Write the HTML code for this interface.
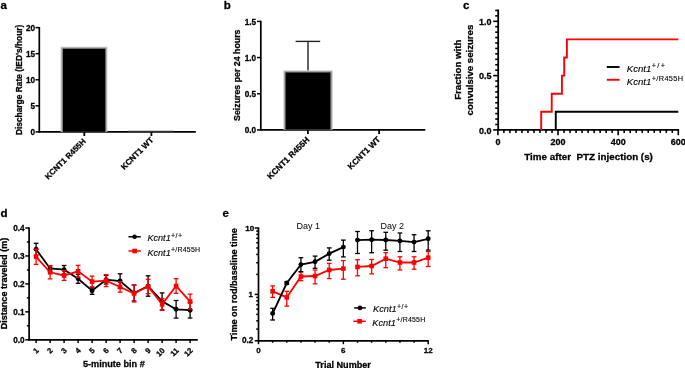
<!DOCTYPE html>
<html><head><meta charset="utf-8"><style>
html,body{margin:0;padding:0;background:#fff;}
svg{display:block;will-change:transform;}
svg text{font-family:"Liberation Sans",sans-serif;} text.b{stroke:#000;stroke-width:0.28px;paint-order:stroke;} text.l{stroke:#000;stroke-width:0.12px;paint-order:stroke;}
</style></head><body>
<svg width="685" height="368" viewBox="0 0 685 368">
<rect width="685" height="368" fill="#fff"/>
<text x="0.60" y="8.80" font-size="11.5" font-weight="bold" text-anchor="start" fill="#000" class="b">a</text>
<text x="223.80" y="8.80" font-size="11.5" font-weight="bold" text-anchor="start" fill="#000" class="b">b</text>
<text x="463.00" y="8.80" font-size="11.5" font-weight="bold" text-anchor="start" fill="#000" class="b">c</text>
<text x="0.40" y="217.40" font-size="11.5" font-weight="bold" text-anchor="start" fill="#000" class="b">d</text>
<text x="222.60" y="217.40" font-size="11.5" font-weight="bold" text-anchor="start" fill="#000" class="b">e</text>
<line x1="39.30" y1="27.00" x2="39.30" y2="132.60" stroke="#000" stroke-width="1.7"/>
<line x1="35.50" y1="131.90" x2="39.30" y2="131.90" stroke="#000" stroke-width="1.5"/>
<text x="35.00" y="135.11" font-size="8.2" font-weight="bold" text-anchor="end" fill="#000" class="b">0</text>
<line x1="35.50" y1="105.83" x2="39.30" y2="105.83" stroke="#000" stroke-width="1.5"/>
<text x="35.00" y="109.04" font-size="8.2" font-weight="bold" text-anchor="end" fill="#000" class="b">5</text>
<line x1="35.50" y1="79.75" x2="39.30" y2="79.75" stroke="#000" stroke-width="1.5"/>
<text x="35.00" y="82.96" font-size="8.2" font-weight="bold" text-anchor="end" fill="#000" class="b">10</text>
<line x1="35.50" y1="53.67" x2="39.30" y2="53.67" stroke="#000" stroke-width="1.5"/>
<text x="35.00" y="56.89" font-size="8.2" font-weight="bold" text-anchor="end" fill="#000" class="b">15</text>
<line x1="35.50" y1="27.60" x2="39.30" y2="27.60" stroke="#000" stroke-width="1.5"/>
<text x="35.00" y="30.81" font-size="8.2" font-weight="bold" text-anchor="end" fill="#000" class="b">20</text>
<line x1="38.60" y1="131.90" x2="195.80" y2="131.90" stroke="#000" stroke-width="1.9"/>
<line x1="84.30" y1="131.90" x2="84.30" y2="136.00" stroke="#000" stroke-width="1.8"/>
<line x1="151.40" y1="131.90" x2="151.40" y2="136.00" stroke="#000" stroke-width="1.8"/>
<rect x="60.5" y="46.7" width="47.0" height="85.1" fill="#d2d2d6"/><rect x="61.5" y="47.6" width="45.0" height="84.2" fill="#8e8e94"/><rect x="62.9" y="48.8" width="42.4" height="83" fill="#000"/>
<line x1="128.00" y1="131.10" x2="173.50" y2="131.10" stroke="#666" stroke-width="0.8"/>
<text x="86.30" y="141.90" font-size="8.0" font-weight="bold" text-anchor="end" transform="rotate(-45 86.30 141.90)" fill="#000" class="b">KCNT1 R455H</text>
<text x="153.90" y="140.60" font-size="8.1" font-weight="bold" text-anchor="end" transform="rotate(-45 153.90 140.60)" fill="#000" class="b">KCNT1 WT</text>
<text x="22.20" y="79.90" font-size="8.4" font-weight="bold" text-anchor="middle" transform="rotate(-90 22.20 79.90)" fill="#000" class="b">Discharge Rate (IED's/hour)</text>
<line x1="260.80" y1="20.80" x2="260.80" y2="130.60" stroke="#000" stroke-width="1.7"/>
<line x1="257.00" y1="129.90" x2="260.80" y2="129.90" stroke="#000" stroke-width="1.5"/>
<text x="256.10" y="133.41" font-size="8.2" font-weight="bold" text-anchor="end" fill="#000" class="b">0.0</text>
<line x1="257.00" y1="93.73" x2="260.80" y2="93.73" stroke="#000" stroke-width="1.5"/>
<text x="256.10" y="97.25" font-size="8.2" font-weight="bold" text-anchor="end" fill="#000" class="b">0.5</text>
<line x1="257.00" y1="57.57" x2="260.80" y2="57.57" stroke="#000" stroke-width="1.5"/>
<text x="256.10" y="61.08" font-size="8.2" font-weight="bold" text-anchor="end" fill="#000" class="b">1.0</text>
<line x1="257.00" y1="21.40" x2="260.80" y2="21.40" stroke="#000" stroke-width="1.5"/>
<text x="256.10" y="24.91" font-size="8.2" font-weight="bold" text-anchor="end" fill="#000" class="b">1.5</text>
<line x1="260.10" y1="129.90" x2="425.30" y2="129.90" stroke="#000" stroke-width="1.9"/>
<line x1="307.90" y1="129.90" x2="307.90" y2="133.90" stroke="#000" stroke-width="1.8"/>
<line x1="379.10" y1="129.90" x2="379.10" y2="133.90" stroke="#000" stroke-width="1.8"/>
<line x1="308.00" y1="71.60" x2="308.00" y2="41.40" stroke="#222" stroke-width="1.4"/>
<line x1="295.60" y1="41.40" x2="320.20" y2="41.40" stroke="#222" stroke-width="1.4"/>
<rect x="283.3" y="70.3" width="49.5" height="59.3" fill="#d2d2d6"/><rect x="284.3" y="71.3" width="47.5" height="58.3" fill="#8e8e94"/><rect x="285.6" y="72.5" width="44.8" height="57.1" fill="#000"/>
<text x="310.00" y="140.30" font-size="8.3" font-weight="bold" text-anchor="end" transform="rotate(-45 310.00 140.30)" fill="#000" class="b">KCNT1 R455H</text>
<text x="380.90" y="140.00" font-size="8.2" font-weight="bold" text-anchor="end" transform="rotate(-45 380.90 140.00)" fill="#000" class="b">KCNT1 WT</text>
<text x="240.00" y="75.25" font-size="8.8" font-weight="bold" text-anchor="middle" transform="rotate(-90 240.00 75.25)" fill="#000" class="b">Seizures per 24 hours</text>
<line x1="498.20" y1="9.60" x2="498.20" y2="130.70" stroke="#000" stroke-width="1.8"/>
<line x1="493.20" y1="129.90" x2="498.20" y2="129.90" stroke="#000" stroke-width="1.6"/>
<line x1="495.20" y1="124.47" x2="498.20" y2="124.47" stroke="#000" stroke-width="1.6"/>
<line x1="495.20" y1="119.04" x2="498.20" y2="119.04" stroke="#000" stroke-width="1.6"/>
<line x1="495.20" y1="113.61" x2="498.20" y2="113.61" stroke="#000" stroke-width="1.6"/>
<line x1="495.20" y1="108.18" x2="498.20" y2="108.18" stroke="#000" stroke-width="1.6"/>
<line x1="495.20" y1="102.75" x2="498.20" y2="102.75" stroke="#000" stroke-width="1.6"/>
<line x1="495.20" y1="97.32" x2="498.20" y2="97.32" stroke="#000" stroke-width="1.6"/>
<line x1="495.20" y1="91.89" x2="498.20" y2="91.89" stroke="#000" stroke-width="1.6"/>
<line x1="495.20" y1="86.46" x2="498.20" y2="86.46" stroke="#000" stroke-width="1.6"/>
<line x1="495.20" y1="81.03" x2="498.20" y2="81.03" stroke="#000" stroke-width="1.6"/>
<line x1="493.20" y1="75.60" x2="498.20" y2="75.60" stroke="#000" stroke-width="1.6"/>
<line x1="495.20" y1="70.17" x2="498.20" y2="70.17" stroke="#000" stroke-width="1.6"/>
<line x1="495.20" y1="64.74" x2="498.20" y2="64.74" stroke="#000" stroke-width="1.6"/>
<line x1="495.20" y1="59.31" x2="498.20" y2="59.31" stroke="#000" stroke-width="1.6"/>
<line x1="495.20" y1="53.88" x2="498.20" y2="53.88" stroke="#000" stroke-width="1.6"/>
<line x1="495.20" y1="48.45" x2="498.20" y2="48.45" stroke="#000" stroke-width="1.6"/>
<line x1="495.20" y1="43.02" x2="498.20" y2="43.02" stroke="#000" stroke-width="1.6"/>
<line x1="495.20" y1="37.59" x2="498.20" y2="37.59" stroke="#000" stroke-width="1.6"/>
<line x1="495.20" y1="32.16" x2="498.20" y2="32.16" stroke="#000" stroke-width="1.6"/>
<line x1="495.20" y1="26.73" x2="498.20" y2="26.73" stroke="#000" stroke-width="1.6"/>
<line x1="493.20" y1="21.30" x2="498.20" y2="21.30" stroke="#000" stroke-width="1.6"/>
<line x1="495.20" y1="15.87" x2="498.20" y2="15.87" stroke="#000" stroke-width="1.6"/>
<line x1="495.20" y1="10.44" x2="498.20" y2="10.44" stroke="#000" stroke-width="1.6"/>
<text x="491.50" y="133.59" font-size="9.0" font-weight="bold" text-anchor="end" fill="#000" class="b">0.0</text>
<text x="491.50" y="79.29" font-size="9.0" font-weight="bold" text-anchor="end" fill="#000" class="b">0.5</text>
<text x="491.50" y="24.99" font-size="9.0" font-weight="bold" text-anchor="end" fill="#000" class="b">1.0</text>
<line x1="497.40" y1="129.90" x2="679.10" y2="129.90" stroke="#000" stroke-width="1.8"/>
<line x1="497.90" y1="129.90" x2="497.90" y2="135.20" stroke="#000" stroke-width="1.6"/>
<line x1="503.91" y1="129.90" x2="503.91" y2="132.90" stroke="#000" stroke-width="1.6"/>
<line x1="509.93" y1="129.90" x2="509.93" y2="132.90" stroke="#000" stroke-width="1.6"/>
<line x1="515.94" y1="129.90" x2="515.94" y2="132.90" stroke="#000" stroke-width="1.6"/>
<line x1="521.95" y1="129.90" x2="521.95" y2="132.90" stroke="#000" stroke-width="1.6"/>
<line x1="527.97" y1="129.90" x2="527.97" y2="132.90" stroke="#000" stroke-width="1.6"/>
<line x1="533.98" y1="129.90" x2="533.98" y2="132.90" stroke="#000" stroke-width="1.6"/>
<line x1="539.99" y1="129.90" x2="539.99" y2="132.90" stroke="#000" stroke-width="1.6"/>
<line x1="546.01" y1="129.90" x2="546.01" y2="132.90" stroke="#000" stroke-width="1.6"/>
<line x1="552.02" y1="129.90" x2="552.02" y2="132.90" stroke="#000" stroke-width="1.6"/>
<line x1="558.03" y1="129.90" x2="558.03" y2="135.20" stroke="#000" stroke-width="1.6"/>
<line x1="564.05" y1="129.90" x2="564.05" y2="132.90" stroke="#000" stroke-width="1.6"/>
<line x1="570.06" y1="129.90" x2="570.06" y2="132.90" stroke="#000" stroke-width="1.6"/>
<line x1="576.07" y1="129.90" x2="576.07" y2="132.90" stroke="#000" stroke-width="1.6"/>
<line x1="582.09" y1="129.90" x2="582.09" y2="132.90" stroke="#000" stroke-width="1.6"/>
<line x1="588.10" y1="129.90" x2="588.10" y2="132.90" stroke="#000" stroke-width="1.6"/>
<line x1="594.11" y1="129.90" x2="594.11" y2="132.90" stroke="#000" stroke-width="1.6"/>
<line x1="600.13" y1="129.90" x2="600.13" y2="132.90" stroke="#000" stroke-width="1.6"/>
<line x1="606.14" y1="129.90" x2="606.14" y2="132.90" stroke="#000" stroke-width="1.6"/>
<line x1="612.15" y1="129.90" x2="612.15" y2="132.90" stroke="#000" stroke-width="1.6"/>
<line x1="618.17" y1="129.90" x2="618.17" y2="135.20" stroke="#000" stroke-width="1.6"/>
<line x1="624.18" y1="129.90" x2="624.18" y2="132.90" stroke="#000" stroke-width="1.6"/>
<line x1="630.19" y1="129.90" x2="630.19" y2="132.90" stroke="#000" stroke-width="1.6"/>
<line x1="636.21" y1="129.90" x2="636.21" y2="132.90" stroke="#000" stroke-width="1.6"/>
<line x1="642.22" y1="129.90" x2="642.22" y2="132.90" stroke="#000" stroke-width="1.6"/>
<line x1="648.23" y1="129.90" x2="648.23" y2="132.90" stroke="#000" stroke-width="1.6"/>
<line x1="654.25" y1="129.90" x2="654.25" y2="132.90" stroke="#000" stroke-width="1.6"/>
<line x1="660.26" y1="129.90" x2="660.26" y2="132.90" stroke="#000" stroke-width="1.6"/>
<line x1="666.27" y1="129.90" x2="666.27" y2="132.90" stroke="#000" stroke-width="1.6"/>
<line x1="672.29" y1="129.90" x2="672.29" y2="132.90" stroke="#000" stroke-width="1.6"/>
<line x1="678.30" y1="129.90" x2="678.30" y2="135.20" stroke="#000" stroke-width="1.6"/>
<text x="497.90" y="145.00" font-size="9.0" font-weight="bold" text-anchor="middle" fill="#000" class="b">0</text>
<text x="558.03" y="145.00" font-size="9.0" font-weight="bold" text-anchor="middle" fill="#000" class="b">200</text>
<text x="618.17" y="145.00" font-size="9.0" font-weight="bold" text-anchor="middle" fill="#000" class="b">400</text>
<text x="678.30" y="145.00" font-size="9.0" font-weight="bold" text-anchor="middle" fill="#000" class="b">600</text>
<polyline fill="none" stroke="#f00" stroke-width="1.9" points="541.20,129.90 541.20,129.90 541.20,111.80 551.72,111.80 551.72,93.70 561.94,93.70 561.94,75.60 564.20,75.60 564.20,57.50 566.90,57.50 566.90,39.40 678.30,39.40"/>
<polyline fill="none" stroke="#000" stroke-width="1.9" points="555.78,129.90 555.78,111.80 678.30,111.80"/>
<line x1="606.80" y1="67.00" x2="619.60" y2="67.00" stroke="#000" stroke-width="1.9"/>
<line x1="606.80" y1="79.80" x2="619.60" y2="79.80" stroke="#f00" stroke-width="1.9"/>
<text x="626.80" y="71.70" font-size="9.6" font-style="italic" fill="#000" class="l">Kcnt1<tspan font-size="7.4" font-style="normal" dx="0.3" dy="-4.0" letter-spacing="1.4">+/+</tspan></text>
<text x="626.80" y="84.80" font-size="9.6" font-style="italic" fill="#000" class="l">Kcnt1<tspan font-size="7.4" font-style="normal" dx="0.3" dy="-4.0" letter-spacing="0.35">+/R455H</tspan></text>
<text x="461.20" y="69.70" font-size="9.7" font-weight="bold" text-anchor="middle" transform="rotate(-90 461.20 69.70)" fill="#000" class="b">Fraction with</text>
<text x="472.80" y="70.05" font-size="9.6" font-weight="bold" text-anchor="middle" transform="rotate(-90 472.80 70.05)" fill="#000" class="b">convulsive seizures</text>
<text x="524.20" y="160.10" font-size="9.83" font-weight="bold" text-anchor="start" fill="#000" class="b">Time after&#160; PTZ injection (s)</text>
<line x1="29.10" y1="227.40" x2="29.10" y2="340.50" stroke="#000" stroke-width="1.7"/>
<line x1="25.30" y1="339.80" x2="29.10" y2="339.80" stroke="#000" stroke-width="1.5"/>
<text x="24.60" y="342.81" font-size="8.2" font-weight="bold" text-anchor="end" fill="#000" class="b">0.0</text>
<line x1="26.90" y1="325.82" x2="29.10" y2="325.82" stroke="#000" stroke-width="1.5"/>
<line x1="25.30" y1="311.85" x2="29.10" y2="311.85" stroke="#000" stroke-width="1.5"/>
<text x="24.60" y="314.86" font-size="8.2" font-weight="bold" text-anchor="end" fill="#000" class="b">0.1</text>
<line x1="26.90" y1="297.88" x2="29.10" y2="297.88" stroke="#000" stroke-width="1.5"/>
<line x1="25.30" y1="283.90" x2="29.10" y2="283.90" stroke="#000" stroke-width="1.5"/>
<text x="24.60" y="286.91" font-size="8.2" font-weight="bold" text-anchor="end" fill="#000" class="b">0.2</text>
<line x1="26.90" y1="269.93" x2="29.10" y2="269.93" stroke="#000" stroke-width="1.5"/>
<line x1="25.30" y1="255.95" x2="29.10" y2="255.95" stroke="#000" stroke-width="1.5"/>
<text x="24.60" y="258.96" font-size="8.2" font-weight="bold" text-anchor="end" fill="#000" class="b">0.3</text>
<line x1="26.90" y1="241.98" x2="29.10" y2="241.98" stroke="#000" stroke-width="1.5"/>
<line x1="25.30" y1="228.00" x2="29.10" y2="228.00" stroke="#000" stroke-width="1.5"/>
<text x="24.60" y="231.01" font-size="8.2" font-weight="bold" text-anchor="end" fill="#000" class="b">0.4</text>
<line x1="28.40" y1="339.80" x2="197.80" y2="339.80" stroke="#000" stroke-width="1.7"/>
<line x1="36.10" y1="339.80" x2="36.10" y2="342.90" stroke="#000" stroke-width="1.5"/>
<text x="39.30" y="351.00" font-size="7.7" font-weight="bold" text-anchor="end" transform="rotate(-45 39.30 351.00)" fill="#000" class="b">1</text>
<line x1="50.10" y1="339.80" x2="50.10" y2="342.90" stroke="#000" stroke-width="1.5"/>
<text x="53.30" y="351.00" font-size="7.7" font-weight="bold" text-anchor="end" transform="rotate(-45 53.30 351.00)" fill="#000" class="b">2</text>
<line x1="64.10" y1="339.80" x2="64.10" y2="342.90" stroke="#000" stroke-width="1.5"/>
<text x="67.30" y="351.00" font-size="7.7" font-weight="bold" text-anchor="end" transform="rotate(-45 67.30 351.00)" fill="#000" class="b">3</text>
<line x1="78.10" y1="339.80" x2="78.10" y2="342.90" stroke="#000" stroke-width="1.5"/>
<text x="81.30" y="351.00" font-size="7.7" font-weight="bold" text-anchor="end" transform="rotate(-45 81.30 351.00)" fill="#000" class="b">4</text>
<line x1="92.10" y1="339.80" x2="92.10" y2="342.90" stroke="#000" stroke-width="1.5"/>
<text x="95.30" y="351.00" font-size="7.7" font-weight="bold" text-anchor="end" transform="rotate(-45 95.30 351.00)" fill="#000" class="b">5</text>
<line x1="106.10" y1="339.80" x2="106.10" y2="342.90" stroke="#000" stroke-width="1.5"/>
<text x="109.30" y="351.00" font-size="7.7" font-weight="bold" text-anchor="end" transform="rotate(-45 109.30 351.00)" fill="#000" class="b">6</text>
<line x1="120.10" y1="339.80" x2="120.10" y2="342.90" stroke="#000" stroke-width="1.5"/>
<text x="123.30" y="351.00" font-size="7.7" font-weight="bold" text-anchor="end" transform="rotate(-45 123.30 351.00)" fill="#000" class="b">7</text>
<line x1="134.10" y1="339.80" x2="134.10" y2="342.90" stroke="#000" stroke-width="1.5"/>
<text x="137.30" y="351.00" font-size="7.7" font-weight="bold" text-anchor="end" transform="rotate(-45 137.30 351.00)" fill="#000" class="b">8</text>
<line x1="148.10" y1="339.80" x2="148.10" y2="342.90" stroke="#000" stroke-width="1.5"/>
<text x="151.30" y="351.00" font-size="7.7" font-weight="bold" text-anchor="end" transform="rotate(-45 151.30 351.00)" fill="#000" class="b">9</text>
<line x1="162.10" y1="339.80" x2="162.10" y2="342.90" stroke="#000" stroke-width="1.5"/>
<text x="165.30" y="351.00" font-size="7.7" font-weight="bold" text-anchor="end" transform="rotate(-45 165.30 351.00)" fill="#000" class="b">10</text>
<line x1="176.10" y1="339.80" x2="176.10" y2="342.90" stroke="#000" stroke-width="1.5"/>
<text x="179.30" y="351.00" font-size="7.7" font-weight="bold" text-anchor="end" transform="rotate(-45 179.30 351.00)" fill="#000" class="b">11</text>
<line x1="190.10" y1="339.80" x2="190.10" y2="342.90" stroke="#000" stroke-width="1.5"/>
<text x="193.30" y="351.00" font-size="7.7" font-weight="bold" text-anchor="end" transform="rotate(-45 193.30 351.00)" fill="#000" class="b">12</text>
<text x="113.85" y="367.00" font-size="9.15" font-weight="bold" text-anchor="middle" fill="#000" class="b">5-minute bin #</text>
<text x="7.00" y="283.55" font-size="9.05" font-weight="bold" text-anchor="middle" transform="rotate(-90 7.00 283.55)" fill="#000" class="b">Distance traveled (m)</text>
<line x1="36.10" y1="243.30" x2="36.10" y2="255.30" stroke="#000" stroke-width="1.3"/>
<line x1="33.75" y1="243.30" x2="38.45" y2="243.30" stroke="#000" stroke-width="1.3"/>
<line x1="33.75" y1="255.30" x2="38.45" y2="255.30" stroke="#000" stroke-width="1.3"/>
<line x1="50.10" y1="265.70" x2="50.10" y2="271.30" stroke="#000" stroke-width="1.3"/>
<line x1="47.75" y1="265.70" x2="52.45" y2="265.70" stroke="#000" stroke-width="1.3"/>
<line x1="47.75" y1="271.30" x2="52.45" y2="271.30" stroke="#000" stroke-width="1.3"/>
<line x1="64.10" y1="265.50" x2="64.10" y2="273.90" stroke="#000" stroke-width="1.3"/>
<line x1="61.75" y1="265.50" x2="66.45" y2="265.50" stroke="#000" stroke-width="1.3"/>
<line x1="61.75" y1="273.90" x2="66.45" y2="273.90" stroke="#000" stroke-width="1.3"/>
<line x1="78.10" y1="274.30" x2="78.10" y2="283.30" stroke="#000" stroke-width="1.3"/>
<line x1="75.75" y1="274.30" x2="80.45" y2="274.30" stroke="#000" stroke-width="1.3"/>
<line x1="75.75" y1="283.30" x2="80.45" y2="283.30" stroke="#000" stroke-width="1.3"/>
<line x1="92.10" y1="287.10" x2="92.10" y2="294.30" stroke="#000" stroke-width="1.3"/>
<line x1="89.75" y1="287.10" x2="94.45" y2="287.10" stroke="#000" stroke-width="1.3"/>
<line x1="89.75" y1="294.30" x2="94.45" y2="294.30" stroke="#000" stroke-width="1.3"/>
<line x1="106.10" y1="275.40" x2="106.10" y2="284.00" stroke="#000" stroke-width="1.3"/>
<line x1="103.75" y1="275.40" x2="108.45" y2="275.40" stroke="#000" stroke-width="1.3"/>
<line x1="103.75" y1="284.00" x2="108.45" y2="284.00" stroke="#000" stroke-width="1.3"/>
<line x1="120.10" y1="273.80" x2="120.10" y2="288.20" stroke="#000" stroke-width="1.3"/>
<line x1="117.75" y1="273.80" x2="122.45" y2="273.80" stroke="#000" stroke-width="1.3"/>
<line x1="117.75" y1="288.20" x2="122.45" y2="288.20" stroke="#000" stroke-width="1.3"/>
<line x1="134.10" y1="285.00" x2="134.10" y2="301.00" stroke="#000" stroke-width="1.3"/>
<line x1="131.75" y1="285.00" x2="136.45" y2="285.00" stroke="#000" stroke-width="1.3"/>
<line x1="131.75" y1="301.00" x2="136.45" y2="301.00" stroke="#000" stroke-width="1.3"/>
<line x1="148.10" y1="275.80" x2="148.10" y2="296.20" stroke="#000" stroke-width="1.3"/>
<line x1="145.75" y1="275.80" x2="150.45" y2="275.80" stroke="#000" stroke-width="1.3"/>
<line x1="145.75" y1="296.20" x2="150.45" y2="296.20" stroke="#000" stroke-width="1.3"/>
<line x1="162.10" y1="292.90" x2="162.10" y2="309.90" stroke="#000" stroke-width="1.3"/>
<line x1="159.75" y1="292.90" x2="164.45" y2="292.90" stroke="#000" stroke-width="1.3"/>
<line x1="159.75" y1="309.90" x2="164.45" y2="309.90" stroke="#000" stroke-width="1.3"/>
<line x1="176.10" y1="300.50" x2="176.10" y2="318.10" stroke="#000" stroke-width="1.3"/>
<line x1="173.75" y1="300.50" x2="178.45" y2="300.50" stroke="#000" stroke-width="1.3"/>
<line x1="173.75" y1="318.10" x2="178.45" y2="318.10" stroke="#000" stroke-width="1.3"/>
<line x1="190.10" y1="302.40" x2="190.10" y2="318.00" stroke="#000" stroke-width="1.3"/>
<line x1="187.75" y1="302.40" x2="192.45" y2="302.40" stroke="#000" stroke-width="1.3"/>
<line x1="187.75" y1="318.00" x2="192.45" y2="318.00" stroke="#000" stroke-width="1.3"/>
<polyline fill="none" stroke="#000" stroke-width="1.8" points="36.10,249.30 50.10,268.50 64.10,269.70 78.10,278.80 92.10,290.70 106.10,279.70 120.10,281.00 134.10,293.00 148.10,286.00 162.10,301.40 176.10,309.30 190.10,310.20"/>
<circle cx="36.10" cy="249.30" r="2.45" fill="#000"/>
<circle cx="50.10" cy="268.50" r="2.45" fill="#000"/>
<circle cx="64.10" cy="269.70" r="2.45" fill="#000"/>
<circle cx="78.10" cy="278.80" r="2.45" fill="#000"/>
<circle cx="92.10" cy="290.70" r="2.45" fill="#000"/>
<circle cx="106.10" cy="279.70" r="2.45" fill="#000"/>
<circle cx="120.10" cy="281.00" r="2.45" fill="#000"/>
<circle cx="134.10" cy="293.00" r="2.45" fill="#000"/>
<circle cx="148.10" cy="286.00" r="2.45" fill="#000"/>
<circle cx="162.10" cy="301.40" r="2.45" fill="#000"/>
<circle cx="176.10" cy="309.30" r="2.45" fill="#000"/>
<circle cx="190.10" cy="310.20" r="2.45" fill="#000"/>
<line x1="36.10" y1="249.20" x2="36.10" y2="264.40" stroke="#f00" stroke-width="1.3"/>
<line x1="33.75" y1="249.20" x2="38.45" y2="249.20" stroke="#f00" stroke-width="1.3"/>
<line x1="33.75" y1="264.40" x2="38.45" y2="264.40" stroke="#f00" stroke-width="1.3"/>
<line x1="50.10" y1="265.70" x2="50.10" y2="278.90" stroke="#f00" stroke-width="1.3"/>
<line x1="47.75" y1="265.70" x2="52.45" y2="265.70" stroke="#f00" stroke-width="1.3"/>
<line x1="47.75" y1="278.90" x2="52.45" y2="278.90" stroke="#f00" stroke-width="1.3"/>
<line x1="64.10" y1="270.60" x2="64.10" y2="280.40" stroke="#f00" stroke-width="1.3"/>
<line x1="61.75" y1="270.60" x2="66.45" y2="270.60" stroke="#f00" stroke-width="1.3"/>
<line x1="61.75" y1="280.40" x2="66.45" y2="280.40" stroke="#f00" stroke-width="1.3"/>
<line x1="78.10" y1="265.30" x2="78.10" y2="277.30" stroke="#f00" stroke-width="1.3"/>
<line x1="75.75" y1="265.30" x2="80.45" y2="265.30" stroke="#f00" stroke-width="1.3"/>
<line x1="75.75" y1="277.30" x2="80.45" y2="277.30" stroke="#f00" stroke-width="1.3"/>
<line x1="92.10" y1="276.10" x2="92.10" y2="287.10" stroke="#f00" stroke-width="1.3"/>
<line x1="89.75" y1="276.10" x2="94.45" y2="276.10" stroke="#f00" stroke-width="1.3"/>
<line x1="89.75" y1="287.10" x2="94.45" y2="287.10" stroke="#f00" stroke-width="1.3"/>
<line x1="106.10" y1="274.60" x2="106.10" y2="286.60" stroke="#f00" stroke-width="1.3"/>
<line x1="103.75" y1="274.60" x2="108.45" y2="274.60" stroke="#f00" stroke-width="1.3"/>
<line x1="103.75" y1="286.60" x2="108.45" y2="286.60" stroke="#f00" stroke-width="1.3"/>
<line x1="120.10" y1="281.80" x2="120.10" y2="292.20" stroke="#f00" stroke-width="1.3"/>
<line x1="117.75" y1="281.80" x2="122.45" y2="281.80" stroke="#f00" stroke-width="1.3"/>
<line x1="117.75" y1="292.20" x2="122.45" y2="292.20" stroke="#f00" stroke-width="1.3"/>
<line x1="134.10" y1="285.00" x2="134.10" y2="302.00" stroke="#f00" stroke-width="1.3"/>
<line x1="131.75" y1="285.00" x2="136.45" y2="285.00" stroke="#f00" stroke-width="1.3"/>
<line x1="131.75" y1="302.00" x2="136.45" y2="302.00" stroke="#f00" stroke-width="1.3"/>
<line x1="148.10" y1="279.30" x2="148.10" y2="293.70" stroke="#f00" stroke-width="1.3"/>
<line x1="145.75" y1="279.30" x2="150.45" y2="279.30" stroke="#f00" stroke-width="1.3"/>
<line x1="145.75" y1="293.70" x2="150.45" y2="293.70" stroke="#f00" stroke-width="1.3"/>
<line x1="162.10" y1="298.40" x2="162.10" y2="310.40" stroke="#f00" stroke-width="1.3"/>
<line x1="159.75" y1="298.40" x2="164.45" y2="298.40" stroke="#f00" stroke-width="1.3"/>
<line x1="159.75" y1="310.40" x2="164.45" y2="310.40" stroke="#f00" stroke-width="1.3"/>
<line x1="176.10" y1="278.70" x2="176.10" y2="293.30" stroke="#f00" stroke-width="1.3"/>
<line x1="173.75" y1="278.70" x2="178.45" y2="278.70" stroke="#f00" stroke-width="1.3"/>
<line x1="173.75" y1="293.30" x2="178.45" y2="293.30" stroke="#f00" stroke-width="1.3"/>
<line x1="190.10" y1="294.10" x2="190.10" y2="309.10" stroke="#f00" stroke-width="1.3"/>
<line x1="187.75" y1="294.10" x2="192.45" y2="294.10" stroke="#f00" stroke-width="1.3"/>
<line x1="187.75" y1="309.10" x2="192.45" y2="309.10" stroke="#f00" stroke-width="1.3"/>
<polyline fill="none" stroke="#f00" stroke-width="1.8" points="36.10,256.80 50.10,272.30 64.10,275.50 78.10,271.30 92.10,281.60 106.10,280.60 120.10,287.00 134.10,293.50 148.10,286.50 162.10,304.40 176.10,286.00 190.10,301.60"/>
<rect x="33.80" y="254.50" width="4.6" height="4.6" fill="#f00"/>
<rect x="47.80" y="270.00" width="4.6" height="4.6" fill="#f00"/>
<rect x="61.80" y="273.20" width="4.6" height="4.6" fill="#f00"/>
<rect x="75.80" y="269.00" width="4.6" height="4.6" fill="#f00"/>
<rect x="89.80" y="279.30" width="4.6" height="4.6" fill="#f00"/>
<rect x="103.80" y="278.30" width="4.6" height="4.6" fill="#f00"/>
<rect x="117.80" y="284.70" width="4.6" height="4.6" fill="#f00"/>
<rect x="131.80" y="291.20" width="4.6" height="4.6" fill="#f00"/>
<rect x="145.80" y="284.20" width="4.6" height="4.6" fill="#f00"/>
<rect x="159.80" y="302.10" width="4.6" height="4.6" fill="#f00"/>
<rect x="173.80" y="283.70" width="4.6" height="4.6" fill="#f00"/>
<rect x="187.80" y="299.30" width="4.6" height="4.6" fill="#f00"/>
<line x1="128.50" y1="236.80" x2="140.80" y2="236.80" stroke="#000" stroke-width="1.5"/>
<circle cx="134.6" cy="236.8" r="2.3" fill="#000"/>
<line x1="128.50" y1="251.00" x2="140.80" y2="251.00" stroke="#f00" stroke-width="1.5"/>
<rect x="132.29999999999998" y="248.7" width="4.6" height="4.6" fill="#f00"/>
<text x="147.40" y="241.40" font-size="9.15" font-style="italic" fill="#000" class="l">Kcnt1<tspan font-size="7.0" font-style="normal" dx="0.3" dy="-3.7" letter-spacing="0.5">+/+</tspan></text>
<text x="147.40" y="255.50" font-size="9.15" font-style="italic" fill="#000" class="l">Kcnt1<tspan font-size="7.0" font-style="normal" dx="0.3" dy="-3.7" letter-spacing="0.2">+/R455H</tspan></text>
<line x1="258.50" y1="227.40" x2="258.50" y2="341.50" stroke="#000" stroke-width="1.7"/>
<line x1="254.70" y1="340.81" x2="258.50" y2="340.81" stroke="#000" stroke-width="1.5"/>
<line x1="256.20" y1="329.12" x2="258.50" y2="329.12" stroke="#000" stroke-width="1.5"/>
<line x1="256.20" y1="320.82" x2="258.50" y2="320.82" stroke="#000" stroke-width="1.5"/>
<line x1="256.20" y1="314.39" x2="258.50" y2="314.39" stroke="#000" stroke-width="1.5"/>
<line x1="256.20" y1="309.13" x2="258.50" y2="309.13" stroke="#000" stroke-width="1.5"/>
<line x1="256.20" y1="304.69" x2="258.50" y2="304.69" stroke="#000" stroke-width="1.5"/>
<line x1="256.20" y1="300.83" x2="258.50" y2="300.83" stroke="#000" stroke-width="1.5"/>
<line x1="256.20" y1="297.44" x2="258.50" y2="297.44" stroke="#000" stroke-width="1.5"/>
<line x1="254.70" y1="294.40" x2="258.50" y2="294.40" stroke="#000" stroke-width="1.5"/>
<line x1="256.20" y1="274.41" x2="258.50" y2="274.41" stroke="#000" stroke-width="1.5"/>
<line x1="256.20" y1="262.72" x2="258.50" y2="262.72" stroke="#000" stroke-width="1.5"/>
<line x1="256.20" y1="254.42" x2="258.50" y2="254.42" stroke="#000" stroke-width="1.5"/>
<line x1="256.20" y1="247.99" x2="258.50" y2="247.99" stroke="#000" stroke-width="1.5"/>
<line x1="256.20" y1="242.73" x2="258.50" y2="242.73" stroke="#000" stroke-width="1.5"/>
<line x1="256.20" y1="238.29" x2="258.50" y2="238.29" stroke="#000" stroke-width="1.5"/>
<line x1="256.20" y1="234.43" x2="258.50" y2="234.43" stroke="#000" stroke-width="1.5"/>
<line x1="256.20" y1="231.04" x2="258.50" y2="231.04" stroke="#000" stroke-width="1.5"/>
<line x1="254.70" y1="228.00" x2="258.50" y2="228.00" stroke="#000" stroke-width="1.5"/>
<text x="254.20" y="231.24" font-size="8.0" font-weight="bold" text-anchor="end" fill="#000" class="b">10</text>
<text x="252.90" y="297.14" font-size="8.0" font-weight="bold" text-anchor="end" fill="#000" class="b">1</text>
<text x="253.40" y="343.12" font-size="8.2" font-weight="bold" text-anchor="end" fill="#000" class="b">0.2</text>
<line x1="257.80" y1="340.80" x2="428.80" y2="340.80" stroke="#000" stroke-width="1.7"/>
<line x1="258.50" y1="340.80" x2="258.50" y2="344.20" stroke="#000" stroke-width="1.5"/>
<text x="258.50" y="353.30" font-size="8.0" font-weight="bold" text-anchor="middle" fill="#000" class="b">0</text>
<line x1="272.64" y1="340.80" x2="272.64" y2="342.80" stroke="#000" stroke-width="1.5"/>
<line x1="286.78" y1="340.80" x2="286.78" y2="342.80" stroke="#000" stroke-width="1.5"/>
<line x1="300.93" y1="340.80" x2="300.93" y2="342.80" stroke="#000" stroke-width="1.5"/>
<line x1="315.07" y1="340.80" x2="315.07" y2="342.80" stroke="#000" stroke-width="1.5"/>
<line x1="329.21" y1="340.80" x2="329.21" y2="342.80" stroke="#000" stroke-width="1.5"/>
<line x1="343.35" y1="340.80" x2="343.35" y2="344.20" stroke="#000" stroke-width="1.5"/>
<text x="343.35" y="353.30" font-size="8.0" font-weight="bold" text-anchor="middle" fill="#000" class="b">6</text>
<line x1="357.49" y1="340.80" x2="357.49" y2="342.80" stroke="#000" stroke-width="1.5"/>
<line x1="371.63" y1="340.80" x2="371.63" y2="342.80" stroke="#000" stroke-width="1.5"/>
<line x1="385.77" y1="340.80" x2="385.77" y2="342.80" stroke="#000" stroke-width="1.5"/>
<line x1="399.92" y1="340.80" x2="399.92" y2="342.80" stroke="#000" stroke-width="1.5"/>
<line x1="414.06" y1="340.80" x2="414.06" y2="342.80" stroke="#000" stroke-width="1.5"/>
<line x1="428.20" y1="340.80" x2="428.20" y2="344.20" stroke="#000" stroke-width="1.5"/>
<text x="428.20" y="353.30" font-size="8.0" font-weight="bold" text-anchor="middle" fill="#000" class="b">12</text>
<text x="343.10" y="367.80" font-size="9.1" font-weight="bold" text-anchor="middle" fill="#000" class="b">Trial Number</text>
<text x="236.60" y="284.35" font-size="9.15" font-weight="bold" text-anchor="middle" transform="rotate(-90 236.60 284.35)" fill="#000" class="b">Time on rod/baseline time</text>
<text x="296.50" y="229.00" font-size="9.0" font-weight="normal" text-anchor="start" fill="#000">Day 1</text>
<text x="380.50" y="229.00" font-size="9.0" font-weight="normal" text-anchor="start" fill="#000">Day 2</text>
<line x1="272.64" y1="285.90" x2="272.64" y2="297.40" stroke="#f00" stroke-width="1.3"/>
<line x1="270.29" y1="285.90" x2="274.99" y2="285.90" stroke="#f00" stroke-width="1.3"/>
<line x1="270.29" y1="297.40" x2="274.99" y2="297.40" stroke="#f00" stroke-width="1.3"/>
<line x1="286.78" y1="291.30" x2="286.78" y2="306.10" stroke="#f00" stroke-width="1.3"/>
<line x1="284.43" y1="291.30" x2="289.13" y2="291.30" stroke="#f00" stroke-width="1.3"/>
<line x1="284.43" y1="306.10" x2="289.13" y2="306.10" stroke="#f00" stroke-width="1.3"/>
<line x1="300.93" y1="272.10" x2="300.93" y2="280.70" stroke="#f00" stroke-width="1.3"/>
<line x1="298.57" y1="272.10" x2="303.28" y2="272.10" stroke="#f00" stroke-width="1.3"/>
<line x1="298.57" y1="280.70" x2="303.28" y2="280.70" stroke="#f00" stroke-width="1.3"/>
<line x1="315.07" y1="270.00" x2="315.07" y2="283.80" stroke="#f00" stroke-width="1.3"/>
<line x1="312.72" y1="270.00" x2="317.42" y2="270.00" stroke="#f00" stroke-width="1.3"/>
<line x1="312.72" y1="283.80" x2="317.42" y2="283.80" stroke="#f00" stroke-width="1.3"/>
<line x1="329.21" y1="263.40" x2="329.21" y2="278.60" stroke="#f00" stroke-width="1.3"/>
<line x1="326.86" y1="263.40" x2="331.56" y2="263.40" stroke="#f00" stroke-width="1.3"/>
<line x1="326.86" y1="278.60" x2="331.56" y2="278.60" stroke="#f00" stroke-width="1.3"/>
<line x1="343.35" y1="260.50" x2="343.35" y2="279.20" stroke="#f00" stroke-width="1.3"/>
<line x1="341.00" y1="260.50" x2="345.70" y2="260.50" stroke="#f00" stroke-width="1.3"/>
<line x1="341.00" y1="279.20" x2="345.70" y2="279.20" stroke="#f00" stroke-width="1.3"/>
<polyline fill="none" stroke="#f00" stroke-width="1.8" points="272.64,291.30 286.78,297.40 300.93,276.50 315.07,276.00 329.21,270.00 343.35,268.60"/>
<rect x="270.34" y="289.00" width="4.6" height="4.6" fill="#f00"/>
<rect x="284.48" y="295.10" width="4.6" height="4.6" fill="#f00"/>
<rect x="298.62" y="274.20" width="4.6" height="4.6" fill="#f00"/>
<rect x="312.77" y="273.70" width="4.6" height="4.6" fill="#f00"/>
<rect x="326.91" y="267.70" width="4.6" height="4.6" fill="#f00"/>
<rect x="341.05" y="266.30" width="4.6" height="4.6" fill="#f00"/>
<line x1="357.49" y1="259.70" x2="357.49" y2="275.80" stroke="#f00" stroke-width="1.3"/>
<line x1="355.14" y1="259.70" x2="359.84" y2="259.70" stroke="#f00" stroke-width="1.3"/>
<line x1="355.14" y1="275.80" x2="359.84" y2="275.80" stroke="#f00" stroke-width="1.3"/>
<line x1="371.63" y1="259.50" x2="371.63" y2="273.90" stroke="#f00" stroke-width="1.3"/>
<line x1="369.28" y1="259.50" x2="373.98" y2="259.50" stroke="#f00" stroke-width="1.3"/>
<line x1="369.28" y1="273.90" x2="373.98" y2="273.90" stroke="#f00" stroke-width="1.3"/>
<line x1="385.77" y1="252.70" x2="385.77" y2="267.70" stroke="#f00" stroke-width="1.3"/>
<line x1="383.42" y1="252.70" x2="388.12" y2="252.70" stroke="#f00" stroke-width="1.3"/>
<line x1="383.42" y1="267.70" x2="388.12" y2="267.70" stroke="#f00" stroke-width="1.3"/>
<line x1="399.92" y1="256.80" x2="399.92" y2="270.00" stroke="#f00" stroke-width="1.3"/>
<line x1="397.57" y1="256.80" x2="402.27" y2="256.80" stroke="#f00" stroke-width="1.3"/>
<line x1="397.57" y1="270.00" x2="402.27" y2="270.00" stroke="#f00" stroke-width="1.3"/>
<line x1="414.06" y1="256.80" x2="414.06" y2="269.20" stroke="#f00" stroke-width="1.3"/>
<line x1="411.71" y1="256.80" x2="416.41" y2="256.80" stroke="#f00" stroke-width="1.3"/>
<line x1="411.71" y1="269.20" x2="416.41" y2="269.20" stroke="#f00" stroke-width="1.3"/>
<line x1="428.20" y1="251.50" x2="428.20" y2="266.50" stroke="#f00" stroke-width="1.3"/>
<line x1="425.85" y1="251.50" x2="430.55" y2="251.50" stroke="#f00" stroke-width="1.3"/>
<line x1="425.85" y1="266.50" x2="430.55" y2="266.50" stroke="#f00" stroke-width="1.3"/>
<polyline fill="none" stroke="#f00" stroke-width="1.8" points="357.49,266.90 371.63,266.00 385.77,258.70 399.92,262.50 414.06,262.50 428.20,257.70"/>
<rect x="355.19" y="264.60" width="4.6" height="4.6" fill="#f00"/>
<rect x="369.33" y="263.70" width="4.6" height="4.6" fill="#f00"/>
<rect x="383.47" y="256.40" width="4.6" height="4.6" fill="#f00"/>
<rect x="397.62" y="260.20" width="4.6" height="4.6" fill="#f00"/>
<rect x="411.76" y="260.20" width="4.6" height="4.6" fill="#f00"/>
<rect x="425.90" y="255.40" width="4.6" height="4.6" fill="#f00"/>
<line x1="272.64" y1="308.30" x2="272.64" y2="320.00" stroke="#000" stroke-width="1.3"/>
<line x1="270.29" y1="308.30" x2="274.99" y2="308.30" stroke="#000" stroke-width="1.3"/>
<line x1="270.29" y1="320.00" x2="274.99" y2="320.00" stroke="#000" stroke-width="1.3"/>
<line x1="286.78" y1="281.80" x2="286.78" y2="284.20" stroke="#000" stroke-width="1.3"/>
<line x1="284.43" y1="281.80" x2="289.13" y2="281.80" stroke="#000" stroke-width="1.3"/>
<line x1="284.43" y1="284.20" x2="289.13" y2="284.20" stroke="#000" stroke-width="1.3"/>
<line x1="300.93" y1="257.70" x2="300.93" y2="271.60" stroke="#000" stroke-width="1.3"/>
<line x1="298.57" y1="257.70" x2="303.28" y2="257.70" stroke="#000" stroke-width="1.3"/>
<line x1="298.57" y1="271.60" x2="303.28" y2="271.60" stroke="#000" stroke-width="1.3"/>
<line x1="315.07" y1="256.10" x2="315.07" y2="268.30" stroke="#000" stroke-width="1.3"/>
<line x1="312.72" y1="256.10" x2="317.42" y2="256.10" stroke="#000" stroke-width="1.3"/>
<line x1="312.72" y1="268.30" x2="317.42" y2="268.30" stroke="#000" stroke-width="1.3"/>
<line x1="329.21" y1="247.90" x2="329.21" y2="260.20" stroke="#000" stroke-width="1.3"/>
<line x1="326.86" y1="247.90" x2="331.56" y2="247.90" stroke="#000" stroke-width="1.3"/>
<line x1="326.86" y1="260.20" x2="331.56" y2="260.20" stroke="#000" stroke-width="1.3"/>
<line x1="343.35" y1="240.10" x2="343.35" y2="256.90" stroke="#000" stroke-width="1.3"/>
<line x1="341.00" y1="240.10" x2="345.70" y2="240.10" stroke="#000" stroke-width="1.3"/>
<line x1="341.00" y1="256.90" x2="345.70" y2="256.90" stroke="#000" stroke-width="1.3"/>
<polyline fill="none" stroke="#000" stroke-width="1.8" points="272.64,313.50 286.78,283.00 300.93,264.60 315.07,261.80 329.21,253.60 343.35,247.10"/>
<circle cx="272.64" cy="313.50" r="2.45" fill="#000"/>
<circle cx="286.78" cy="283.00" r="2.45" fill="#000"/>
<circle cx="300.93" cy="264.60" r="2.45" fill="#000"/>
<circle cx="315.07" cy="261.80" r="2.45" fill="#000"/>
<circle cx="329.21" cy="253.60" r="2.45" fill="#000"/>
<circle cx="343.35" cy="247.10" r="2.45" fill="#000"/>
<line x1="357.49" y1="231.50" x2="357.49" y2="253.50" stroke="#000" stroke-width="1.3"/>
<line x1="355.14" y1="231.50" x2="359.84" y2="231.50" stroke="#000" stroke-width="1.3"/>
<line x1="355.14" y1="253.50" x2="359.84" y2="253.50" stroke="#000" stroke-width="1.3"/>
<line x1="371.63" y1="230.70" x2="371.63" y2="252.70" stroke="#000" stroke-width="1.3"/>
<line x1="369.28" y1="230.70" x2="373.98" y2="230.70" stroke="#000" stroke-width="1.3"/>
<line x1="369.28" y1="252.70" x2="373.98" y2="252.70" stroke="#000" stroke-width="1.3"/>
<line x1="385.77" y1="232.30" x2="385.77" y2="250.20" stroke="#000" stroke-width="1.3"/>
<line x1="383.42" y1="232.30" x2="388.12" y2="232.30" stroke="#000" stroke-width="1.3"/>
<line x1="383.42" y1="250.20" x2="388.12" y2="250.20" stroke="#000" stroke-width="1.3"/>
<line x1="399.92" y1="233.00" x2="399.92" y2="251.50" stroke="#000" stroke-width="1.3"/>
<line x1="397.57" y1="233.00" x2="402.27" y2="233.00" stroke="#000" stroke-width="1.3"/>
<line x1="397.57" y1="251.50" x2="402.27" y2="251.50" stroke="#000" stroke-width="1.3"/>
<line x1="414.06" y1="234.70" x2="414.06" y2="251.50" stroke="#000" stroke-width="1.3"/>
<line x1="411.71" y1="234.70" x2="416.41" y2="234.70" stroke="#000" stroke-width="1.3"/>
<line x1="411.71" y1="251.50" x2="416.41" y2="251.50" stroke="#000" stroke-width="1.3"/>
<line x1="428.20" y1="230.80" x2="428.20" y2="250.10" stroke="#000" stroke-width="1.3"/>
<line x1="425.85" y1="230.80" x2="430.55" y2="230.80" stroke="#000" stroke-width="1.3"/>
<line x1="425.85" y1="250.10" x2="430.55" y2="250.10" stroke="#000" stroke-width="1.3"/>
<polyline fill="none" stroke="#000" stroke-width="1.8" points="357.49,240.10 371.63,239.70 385.77,240.00 399.92,240.90 414.06,242.10 428.20,238.80"/>
<circle cx="357.49" cy="240.10" r="2.45" fill="#000"/>
<circle cx="371.63" cy="239.70" r="2.45" fill="#000"/>
<circle cx="385.77" cy="240.00" r="2.45" fill="#000"/>
<circle cx="399.92" cy="240.90" r="2.45" fill="#000"/>
<circle cx="414.06" cy="242.10" r="2.45" fill="#000"/>
<circle cx="428.20" cy="238.80" r="2.45" fill="#000"/>
<line x1="354.20" y1="307.90" x2="365.80" y2="307.90" stroke="#000" stroke-width="1.5"/>
<circle cx="360" cy="307.9" r="2.3" fill="#000"/>
<line x1="353.30" y1="321.30" x2="365.80" y2="321.30" stroke="#f00" stroke-width="1.5"/>
<rect x="357.3" y="319.0" width="4.6" height="4.6" fill="#f00"/>
<text x="373.00" y="312.30" font-size="9.25" font-style="italic" fill="#000" class="l">Kcnt1<tspan font-size="7.0" font-style="normal" dx="0.3" dy="-3.3" letter-spacing="0.5">+/+</tspan></text>
<text x="372.30" y="325.50" font-size="9.25" font-style="italic" fill="#000" class="l">Kcnt1<tspan font-size="7.0" font-style="normal" dx="0.3" dy="-3.3" letter-spacing="0.2">+/R455H</tspan></text>
</svg></body></html>
